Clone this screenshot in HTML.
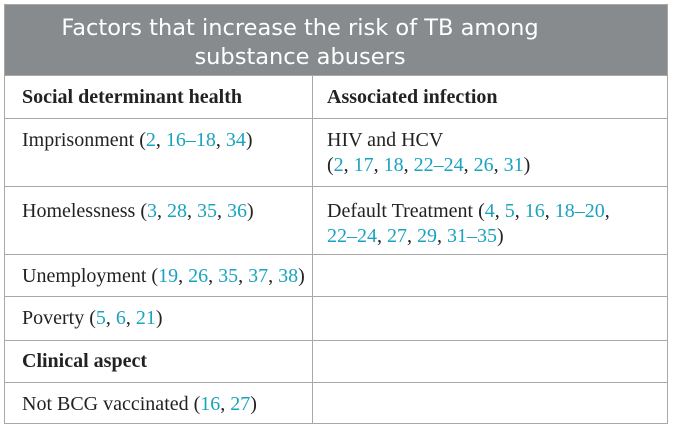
<!DOCTYPE html>
<html><head><meta charset="utf-8"><style>
body{margin:0;background:#fff;width:673px;height:430px;overflow:hidden;font-family:"Liberation Serif",serif;}
#wrap{position:absolute;left:4px;top:4px;width:664px;height:420px;border:1px solid #a8a8a8;box-sizing:border-box;}
#title{position:absolute;left:0;top:0;width:662px;height:70px;background:#878b8e;color:#fff;font-family:"DejaVu Sans","Liberation Sans",sans-serif;font-size:22.5px;line-height:28px;}
#title div{position:absolute;left:0;width:590px;text-align:center;white-space:nowrap;}
.cell{position:absolute;box-sizing:border-box;border-top:1px solid #a8a8a8;font-size:20px;color:#222;padding-left:17px;line-height:25px;white-space:nowrap;}
.c1{left:0;width:308px;border-right:1px solid #a8a8a8;}
.c2{left:308px;width:354px;padding-left:14px;}
.r{color:#1aa3bf;}
b{font-weight:bold;}
</style></head><body>
<div id="wrap">
<div id="title"><div style="top:9px">Factors that increase the risk of TB among</div><div style="top:38px">substance abusers</div></div>
<div class="cell c1" style="top:70px;height:43px;padding-top:9px"><b>Social determinant health</b></div>
<div class="cell c2" style="top:70px;height:43px;padding-top:9px"><b>Associated infection</b></div>
<div class="cell c1" style="top:113px;height:68px;padding-top:9px">Imprisonment (<span class="r">2</span>, <span class="r">16–18</span>, <span class="r">34</span>)</div>
<div class="cell c2" style="top:113px;height:68px;padding-top:9px">HIV and HCV<br>(<span class="r">2</span>, <span class="r">17</span>, <span class="r">18</span>, <span class="r">22–24</span>, <span class="r">26</span>, <span class="r">31</span>)</div>
<div class="cell c1" style="top:181px;height:68px;padding-top:12px">Homelessness (<span class="r">3</span>, <span class="r">28</span>, <span class="r">35</span>, <span class="r">36</span>)</div>
<div class="cell c2" style="top:181px;height:68px;padding-top:12px">Default Treatment (<span class="r">4</span>, <span class="r">5</span>, <span class="r">16</span>, <span class="r">18–20</span>,<br><span class="r">22–24</span>, <span class="r">27</span>, <span class="r">29</span>, <span class="r">31–35</span>)</div>
<div class="cell c1" style="top:249px;height:42px;padding-top:9px">Unemployment (<span class="r">19</span>, <span class="r">26</span>, <span class="r">35</span>, <span class="r">37</span>, <span class="r">38</span>)</div>
<div class="cell c2" style="top:249px;height:42px"></div>
<div class="cell c1" style="top:291px;height:44px;padding-top:9px">Poverty (<span class="r">5</span>, <span class="r">6</span>, <span class="r">21</span>)</div>
<div class="cell c2" style="top:291px;height:44px"></div>
<div class="cell c1" style="top:335px;height:42px;padding-top:8px"><b>Clinical aspect</b></div>
<div class="cell c2" style="top:335px;height:42px"></div>
<div class="cell c1" style="top:377px;height:42px;padding-top:9px">Not BCG vaccinated (<span class="r">16</span>, <span class="r">27</span>)</div>
<div class="cell c2" style="top:377px;height:42px"></div>
</div>
</body></html>
